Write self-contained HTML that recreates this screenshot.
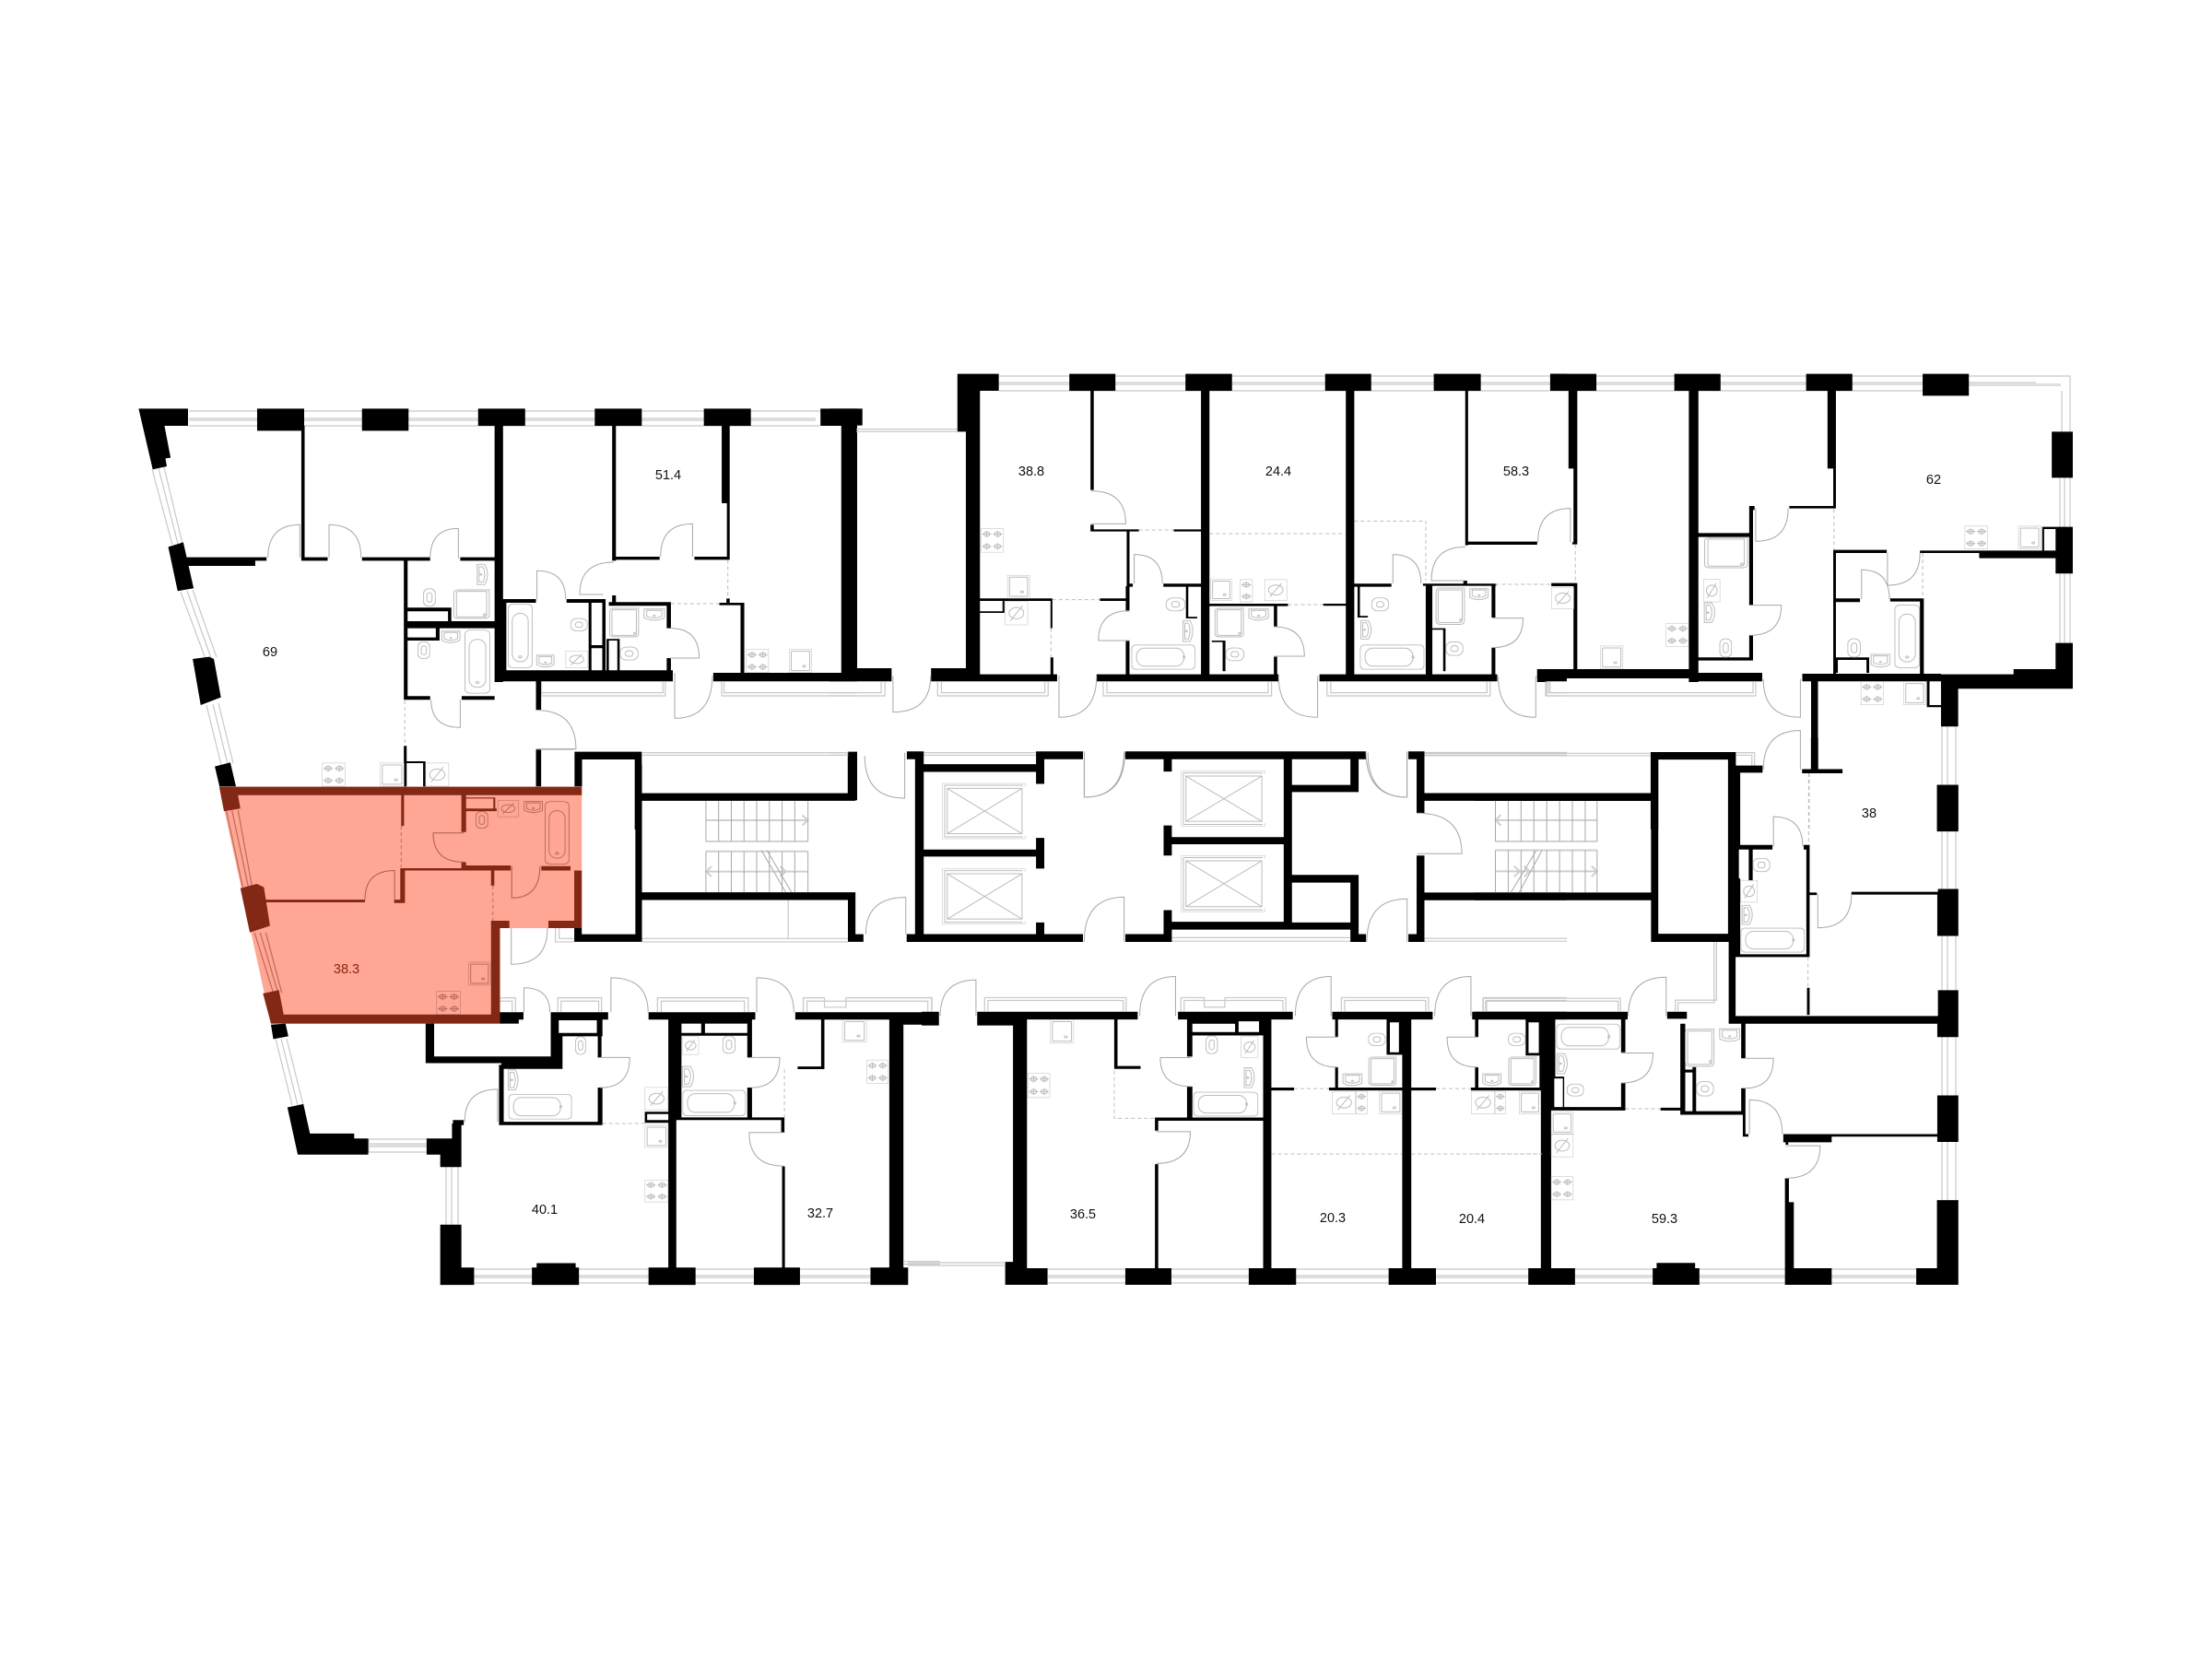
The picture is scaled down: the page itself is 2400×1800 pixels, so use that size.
<!DOCTYPE html>
<html><head><meta charset="utf-8"><style>
html,body{margin:0;padding:0;background:#fff}
svg{display:block}
symbol *{vector-effect:non-scaling-stroke}
.f{stroke:#bbb;fill:none;stroke-width:1}
.r use{stroke:#b86f5e}
use{stroke:#bcbcbc;fill:none;stroke-width:1}
.d{fill:none;stroke:#a8a8a8;stroke-width:1;vector-effect:non-scaling-stroke}
.l{fill:none;stroke:#c8c8c8;stroke-width:1.2;vector-effect:non-scaling-stroke}
.s{fill:none;stroke:#a8a8a8;stroke-width:1;vector-effect:non-scaling-stroke}
.t{fill:none;stroke:#cfcfcf;stroke-width:2;vector-effect:non-scaling-stroke}
.h{fill:none;stroke:#bdbdbd;stroke-width:1;stroke-dasharray:4 3;vector-effect:non-scaling-stroke}
.b{fill:#dedede}
text{font-family:"Liberation Sans",sans-serif;font-size:14.5px;text-anchor:middle;fill:#111}
</style></head><body>
<svg width="2400" height="1800" viewBox="0 0 2400 1800" xmlns="http://www.w3.org/2000/svg">
<defs>
<symbol id="st" viewBox="0 0 50 76" preserveAspectRatio="none"><rect x="0" y="0" width="50" height="76"/><circle cx="13" cy="18" r="7"/><circle cx="37" cy="18" r="7"/><circle cx="13" cy="57" r="7"/><circle cx="37" cy="57" r="7"/><path d="M3 18H23M13 8V28M27 18H47M37 8V28M3 57H23M13 47V67M27 57H47M37 47V67"/></symbol>
<symbol id="s2" viewBox="0 0 26 76" preserveAspectRatio="none"><rect x="0" y="0" width="26" height="76"/><circle cx="13" cy="18" r="7"/><circle cx="13" cy="57" r="7"/><path d="M3 18H23M13 8V28M3 57H23M13 47V67"/></symbol>
<symbol id="sk" viewBox="0 0 50 76" preserveAspectRatio="none"><rect x="0" y="0" width="50" height="76"/><rect x="5" y="7" width="40" height="62" rx="2"/><circle cx="33" cy="55" r="3"/></symbol>
<symbol id="vt" viewBox="0 0 50 76" preserveAspectRatio="none"><rect x="0" y="0" width="50" height="76"/><ellipse cx="25" cy="38" rx="16" ry="18"/><path d="M12 62L38 14"/></symbol>
<symbol id="bv" viewBox="0 0 50 200" preserveAspectRatio="none"><rect x="1" y="1" width="48" height="198" rx="12" ry="12"/><rect x="9" y="30" width="32" height="150" rx="15" ry="24"/><circle cx="25" cy="165" r="3"/></symbol>
<symbol id="bh" viewBox="0 0 200 70" preserveAspectRatio="none"><rect x="1" y="1" width="198" height="68" rx="12" ry="12"/><rect x="16" y="10" width="148" height="50" rx="24" ry="22"/><circle cx="165" cy="35" r="3"/></symbol>
<symbol id="wv" viewBox="0 0 30 60" preserveAspectRatio="none"><rect x="1" y="1" width="28" height="58" rx="13" ry="16"/><rect x="9" y="15" width="12" height="30" rx="6"/></symbol>
<symbol id="wh" viewBox="0 0 50 40" preserveAspectRatio="none"><rect x="1" y="1" width="48" height="38" rx="18" ry="16"/><rect x="15" y="12" width="20" height="16" rx="7"/></symbol>
<symbol id="ws" viewBox="0 0 50 50" preserveAspectRatio="none"><path d="M2 5H48V38Q25 55 2 38Z"/><path d="M8 10H42V32Q25 44 8 32Z"/><circle cx="25" cy="30" r="2"/></symbol>
<symbol id="wl" viewBox="0 0 30 70" preserveAspectRatio="none"><path d="M2 2H18Q30 35 18 68H2Z"/><path d="M6 10H14Q22 35 14 60H6Z"/><circle cx="10" cy="35" r="2"/></symbol>
<symbol id="sh" viewBox="0 0 70 100" preserveAspectRatio="none"><path d="M2 12Q2 2 12 2H68V88Q68 98 58 98H12Q2 98 2 88Z"/><path d="M7 12Q7 7 12 7H63V86Q63 93 56 93H12Q7 93 7 88Z"/><circle cx="60" cy="86" r="3"/></symbol>
<symbol id="el" viewBox="0 0 200 160" preserveAspectRatio="none"><path d="M200 10V0H0V160H200V150"/><path d="M194 6H6V154H194"/><rect x="12" y="15" width="180" height="130"/><path d="M12 15L192 145M192 15L12 145"/></symbol>
</defs>

<!-- windows, real coordinates -->
<g>
<rect class="b" x="205" y="453" width="680" height="4"/><path class="l" d="M205 446H890M205 462H890"/>
<rect class="b" x="1084" y="414" width="1125" height="4"/><path class="l" d="M1084 408H2246V468M1084 424H2136M2237 424V468"/><rect class="b" x="2136" y="416" width="100" height="3"/>
<path class="l" d="M2235 518V572M2246 518V572M2240 518V572M2235 622V698M2246 622V698M2240 622V698"/>
<path class="l" d="M2107 788V1302M2113 788V1302M2122 788V1302"/>
<path class="l" d="M178 507L198 590M172 508L193 590M165 509L187 591M209 640L235 713M203 641L229 714M196 642L223 715M237 763L253 828M231 764L247 829M224 765L240 830"/>
<rect class="b" x="514" y="1383" width="440" height="4"/><path class="l" d="M514 1377H954M514 1392H954"/>
<rect class="b" x="1137" y="1383" width="965" height="4"/><path class="l" d="M1137 1377H2102M1137 1392H2102"/>
<path class="l" d="M985 1370H1090M985 1373H1090"/>
<path class="l" d="M299 1127L317 1199M305 1127L323 1199M311 1127L329 1199"/>
<path class="l" d="M400 1236V1250M400 1236H463M400 1250H463"/><rect class="b" x="400" y="1240" width="63" height="5"/>
<path class="l" d="M484 1266V1330M490 1266V1330M497 1266V1330"/>
</g>

<!-- red apartment -->
<g class="r" transform="translate(220,830) scale(.5102,.3635)">
<path fill="#ffa694" d="M35 65H806V487H632V772H145Z"/>
<path class="l" style="stroke:#c06a58" d="M50 135L85 365M62 135L97 365M75 135L105 365M110 500L150 680M122 500L160 680M134 500L168 680"/>
<path fill="#842816" d="M35 65H806V90H782V315H806V487H735V465H790V315H720V302H782V90H75L80 130L45 138ZM80 368L115 355L130 365L143 480L100 500ZM128 682L162 672L172 745H613V465H652V487H632V772H145ZM130 402H345V410H130ZM407 402H420V308H550V290H560V300H655V315H430V412H407ZM422 90H428V182H422ZM550 90H560V200H550ZM613 315H620V360H613ZM550 130H625V138H550ZM550 97H622V130H618V100H554V130H550Z"/>
<use href="#vt" x="627" y="105" width="45" height="50"/><use href="#ws" x="682" y="105" width="42" height="40"/><use href="#bv" x="727" y="108" width="53" height="189"/><use href="#wv" x="580" y="138" width="27" height="52"/><use href="#sk" x="565" y="588" width="47" height="70"/><use href="#st" x="497" y="675" width="51" height="70"/>
<path class="h" style="stroke:#b86f5e" d="M422 182V305M617 360V465"/>
<path class="d" style="stroke:#a9604f" d="M408 402V315Q345 315 345 402M555 203H490Q490 290 555 290M657 302V397Q717 397 717 302"/>
</g>
<text x="376" y="1056" style="fill:#842816">38.3</text>

<!-- Z1 -->
<g transform="translate(130,400) scale(.5102,.3333)">
<path d="M40 130H145V186H95L108 290L97 292L100 318L70 328ZM103 580L135 565L157 715L123 724ZM155 945L190 938L200 945L215 1070L172 1095ZM202 1295L235 1282L247 1360H212ZM292 130H392V202H292ZM515 130H614V202H515ZM762 130H862V186H762ZM1010 130H1110V186H1010ZM1242 130H1342V186H1242ZM1490 130H1568V186H1490ZM1536 186H1568V1018H1536ZM386 186H393V622H386ZM130 614H312V625H288V642H130ZM386 614H442V625H386ZM515 614H660V625H515ZM724 614H800V625H724ZM604 625H612V1078H604ZM797 186H815V750H822V1000H815V1020H797ZM1047 186H1055V625H1047ZM1055 612H1148V622H1055ZM1222 612H1297V622H1222ZM1280 186H1297V438H1280ZM1291 438H1297V622H1291ZM604 822H810V845H604ZM604 778H705V822H698V790H604ZM612 875H672V845H680V885H612ZM604 1066H660V1078H604ZM727 1066H797V1078H727ZM815 750H885V762H815ZM950 750H1033V762H950ZM997 762H1003V982H997ZM1026 762H1033V982H1026ZM1003 900H1026V910H1003ZM1035 880H1063V982H1058V885H1040V982H1035ZM1047 738H1055V762H1047ZM1040 760H1172V772H1040ZM1163 772H1172V845H1163ZM1163 942H1172V985H1163ZM797 982H1176V1018H797ZM1262 990H1568V1018H1262ZM885 1018H896V1110H885ZM885 1240H896V1360H885ZM967 1247H1110V1272H983V1360H967ZM1095 1272H1110V1500H1095ZM1110 1382H1568V1405H1110ZM1548 1247H1568V1400H1548ZM1275 762H1290V748H1297V762H1328V990H1320V770H1275ZM604 1228H610V1360H604ZM604 1278H650V1360H645V1284H604Z"/>
<path class="l" d="M897 1020V1065H1160V1020M897 1055H1155V1020M1280 1020V1065H1568M1285 1020V1055H1568M895 1240H967M1110 1250H1548M1110 1258H1548"/>
<path class="h" d="M1293 622V750M1172 765H1275M606 1080V1228"/>
<path class="d" d="M383 615V508Q315 508 315 615M445 615V508Q513 508 513 615M720 618V520Q660 520 660 618M1218 612V505Q1150 505 1150 612M1028 735H978Q978 630 1050 630M887 750V658Q948 658 948 750M1170 942H1232Q1232 845 1170 845M724 1078V1168Q662 1168 662 1078M885 1238H970Q970 1112 885 1112M1180 990V1138Q1260 1138 1260 1000"/>
<use href="#wv" x="645" y="715" width="27" height="60"/><use href="#wl" x="758" y="635" width="30" height="70"/><use href="#sh" x="708" y="718" width="80" height="97"/><use href="#ws" x="683" y="850" width="42" height="45"/><use href="#wv" x="633" y="888" width="27" height="57"/><use href="#bv" x="733" y="850" width="55" height="208"/><use href="#bv" x="825" y="765" width="53" height="210"/><use href="#wh" x="958" y="812" width="37" height="43"/><use href="#ws" x="885" y="928" width="40" height="47"/><use href="#vt" x="948" y="918" width="47" height="57"/><use href="#sh" x="1040" y="778" width="65" height="97"/><use href="#ws" x="1113" y="778" width="47" height="44"/><use href="#wh" x="1063" y="905" width="40" height="45"/><use href="#st" x="1332" y="913" width="48" height="77"/><use href="#sk" x="1423" y="913" width="49" height="77"/><use href="#st" x="430" y="1283" width="50" height="77"/><use href="#sk" x="553" y="1283" width="52" height="77"/><use href="#vt" x="650" y="1283" width="50" height="77"/>
</g>

<!-- Z2 -->
<g transform="translate(900,400) scale(.5102,.3333)">
<path d="M272 17H360V72H320V995H484V1018H216V975H290V205H272ZM510 17H608V72H510ZM757 17H856V72H757ZM1054 17H1152V72H1054ZM1285 17H1385V72H1285ZM1533 17H1568V72H1533ZM0 130H70V185H57V975H132V1018H0V990H25V185H0ZM555 72H562V395H555ZM555 508H562V530H555ZM555 523H658V530H555ZM732 523H790V530H732ZM790 72H808V995H790ZM1098 72H1116V1000H1098ZM632 530H638V700H645V710H638V790H630V708H632ZM710 700H790V710H710ZM758 710H763V808H782V813H758ZM630 885H638V995H630ZM568 995H955V1018H568ZM320 748H474V845H470V756H320ZM470 940H476V1000H470ZM575 748H630V756H575ZM320 790H368V756H372V795H320ZM808 765H975V773H808ZM945 773H952V840H945ZM945 938H952V995H945ZM1050 765H1100V772H1050ZM813 885H842V985H836V890H813ZM1116 700H1195V710H1116ZM1123 710H1128V805H1145V810H1123ZM1262 700H1418V707H1416V810H1408V707H1282V995H1268V707H1262ZM1042 995H1420V1018H1042ZM1282 845H1310V985H1305V850H1282ZM1352 72H1358V575H1352ZM1352 563H1505V573H1352ZM1348 690H1356V700H1348ZM1408 908H1416V995H1408ZM1505 978H1568V1018H1525V1008H1505Z"/>
<path class="l" d="M57 197H272M57 205H272M118 1018V1065H0M110 1018V1055H0M230 1018V1065H465V1018M238 1018V1055H458V1018M582 1018V1065H940V1018M590 1018V1055H933V1018M1058 1018V1065H1405V1018M1066 1018V1055H1398V1018M1525 1018V1065H1568M1532 1018V1055H1568M0 1250H40M0 1258H40M200 1250H440M200 1258H440M1262 1252H1568M1262 1260H1568"/>
<path class="h" d="M658 525H732M474 752H575M471 845V940M808 537H1098M975 768H1050M1116 496H1268V690M1416 702H1535"/>
<path class="d" d="M135 1000V1118Q215 1118 215 1000M556 505H630Q630 398 556 398M648 700V605Q708 605 708 700M638 885H572Q572 788 638 788M488 1000V1135Q568 1135 568 1000M945 936H1010Q1010 840 945 840M1038 1000V1135Q955 1135 955 1000M1198 700V605Q1258 605 1258 700M1352 690H1280Q1280 580 1352 580M1410 812H1475Q1475 908 1410 908M1502 1000V1135Q1422 1135 1422 1000M160 1250V1398Q75 1398 75 1260M542 1250V1395Q628 1395 628 1250M1228 1250V1395Q1145 1395 1145 1250"/>
<use href="#st" x="322" y="520" width="48" height="78"/><use href="#sk" x="378" y="672" width="48" height="76"/><use href="#vt" x="373" y="757" width="49" height="78"/><use href="#wh" x="715" y="745" width="42" height="45"/><use href="#wl" x="750" y="818" width="28" height="72"/><use href="#bh" x="642" y="898" width="136" height="82"/><use href="#sk" x="810" y="685" width="46" height="70"/><use href="#s2" x="873" y="686" width="27" height="74"/><use href="#vt" x="925" y="686" width="48" height="69"/><use href="#sh" x="818" y="778" width="64" height="97"/><use href="#ws" x="890" y="778" width="45" height="44"/><use href="#wh" x="842" y="908" width="40" height="44"/><use href="#wh" x="1152" y="745" width="38" height="45"/><use href="#wl" x="1128" y="818" width="30" height="64"/><use href="#bh" x="1128" y="898" width="137" height="82"/><use href="#sh" x="1288" y="712" width="64" height="123"/><use href="#ws" x="1360" y="712" width="42" height="43"/><use href="#wh" x="1310" y="888" width="38" height="47"/>
</g>

<!-- Z3 -->
<g transform="translate(1650,400) scale(.4145,.3333)">
<path d="M77 17H198V72H77ZM402 17H523V72H402ZM747 17H868V72H747ZM1052 17H1173V88H1052ZM1390 205H1445V355H1390ZM1400 515H1445V667H1400V617H1200V600H1045V592H1400V522H1370V592H1365V515ZM1400 893H1445V1042H1145V1165H1100V1018H778V1310H842V1317H737V1305H760V1018H737V993H1100V995H1290V978H1400ZM1090 1355H1145V1500H1090ZM125 72H148V325H125ZM138 325H148V572H135V565H138ZM80 698H148V980H138V708H80ZM440 72H465V990H440ZM803 72H825V325H803ZM818 325H825V455H703V447H818ZM598 447H612V460H608V770H598ZM598 868H608V950H598ZM465 535H608V548H465ZM465 940H608V950H465ZM43 978H440V990H632V1018H465V1020H440V1008H68V1020H43ZM818 590H958V600H825V995H818ZM818 748H888V760H818ZM967 748H1055V995H1045V758H967ZM822 940H912V990H905V948H830V990H822ZM1063 1018H1070V1095H1100V1102H1063ZM340 1248H563V1293H632V1315H563V1500H545V1272H360V1500H340ZM0 1382H340V1407H0Z"/>
<path class="l" d="M65 1018V1065H615V1018M72 1018V1055H608V1018M0 1252H340M0 1260H340M563 1250H612V1293M563 1258H605V1293"/>
<path class="h" d="M143 572V698M0 702H80M820 457V590M1052 600V748M755 1317V1500"/>
<path class="d" d="M130 565V455Q45 455 45 565M615 455V562Q700 562 700 455M600 770H682Q682 868 600 868M892 750V655Q965 655 965 750M960 600V705Q1045 705 1045 600M732 1010V1135Q635 1135 635 1010M732 1305V1178Q635 1178 635 1305"/>
<use href="#st" x="380" y="828" width="60" height="77"/><use href="#sk" x="208" y="902" width="60" height="76"/><use href="#sh" x="478" y="548" width="119" height="102"/><use href="#vt" x="478" y="685" width="44" height="75"/><use href="#wl" x="478" y="760" width="37" height="68"/><use href="#wv" x="520" y="878" width="33" height="62"/><use href="#st" x="1162" y="512" width="60" height="76"/><use href="#sk" x="1302" y="512" width="60" height="76"/><use href="#wv" x="855" y="878" width="35" height="62"/><use href="#ws" x="915" y="925" width="53" height="50"/><use href="#bv" x="978" y="768" width="67" height="207"/><use href="#st" x="890" y="1018" width="60" height="77"/><use href="#sk" x="1002" y="1018" width="58" height="77"/><use href="#vt" x="80" y="712" width="60" height="70"/>
</g>

<!-- Z4 -->
<g transform="translate(220,830) scale(.5102,.3635)">
<path d="M790 487H806V505H920V0H934V85H1372V0H1388V107H934V380H1388V505H1405V528H1372V403H934V528H790ZM1497 505H1515V0H1530V528H1497ZM145 775L176 772L182 810L150 818ZM180 1022L214 1012L228 1100H322V1115H352V1163H202ZM476 1115H530V1070H532V1060H555V1075H550V1200H505V1163H476ZM505 1372H550V1500H577V1552H505ZM700 1500H710V1487H793V1500H800V1552H700ZM948 1500H1048V1552H948ZM1172 1500H1270V1552H1172ZM1420 1500H1500V1552H1420ZM632 738H682V760H672V772H632ZM474 772H492V870H740V738H862V760H850V810H848V873H840V810H765V907H635V890H474ZM840 963H850V1075H630V895H640V1065H840ZM948 738H1175V760H1168V873H1158V772H1018V1060H1007V1500H990V760H948ZM1018 760H1158V772H1018ZM1158 963H1168V1052H1237V1097H1230V1060H1018V1052H1158ZM1018 800H1158V808H1018ZM1060 772H1068V800H1060ZM1232 1198H1238V1500H1232ZM1260 738H1565V775H1490V1500H1460V760H1260ZM1315 760H1322V908H1265V900H1315ZM940 1035H990V1042H945V1060H990V1068H940Z"/>
<path fill="#fff" d="M757 762H838V800H757Z"/>
<path class="l" d="M750 487V528H790M758 487V518H790M934 518H1372M934 528H1372M1245 403V518M632 695H665V738M632 705H658V738M755 738V695H848V738M762 738V705H842V738M967 738V695H1160V738M975 738V705H1152V738M1277 738V695H1322V723H1368V695H1550V738M1285 738V705H1542V738M1490 1482H1568M1490 1490H1568"/>
<path class="t" d="M1070 165H1287M1070 228H1287M1070 258H1287M1070 318H1287M1275 150L1287 165L1275 180M1082 303L1070 318L1082 333M1228 303L1240 318L1228 333"/>
<path class="s" d="M1070 108V228M1097 108V228M1124 108V228M1151 108V228M1178 108V228M1205 108V228M1232 108V228M1259 108V228M1287 108V228M1070 258V380M1097 258V380M1124 258V380M1151 258V380M1178 258V380M1205 258V380M1232 258V380M1259 258V380M1287 258V380M1188 255L1240 380M1200 255L1252 380"/>
<path class="h" d="M850 1070H940M1237 908V1052"/>
<path class="d" d="M656 487V595Q733 595 733 487M1495 505V395Q1410 395 1410 505M683 738V665Q738 665 738 738M868 738V635Q947 635 947 738M1178 738V635Q1257 635 1257 738M845 873H908Q908 963 845 963M1165 873H1227Q1227 963 1165 963M627 1065V968Q557 968 557 1065M1235 1097H1162Q1162 1197 1235 1197"/>
<use href="#wv" x="792" y="810" width="23" height="55"/><use href="#wl" x="648" y="908" width="28" height="64"/><use href="#bh" x="650" y="982" width="135" height="76"/><use href="#vt" x="1020" y="810" width="35" height="55"/><use href="#wv" x="1105" y="808" width="28" height="54"/><use href="#wl" x="1018" y="898" width="32" height="64"/><use href="#bh" x="1020" y="970" width="135" height="78"/><use href="#sk" x="1360" y="760" width="52" height="68"/><use href="#st" x="1412" y="880" width="46" height="72"/><use href="#vt" x="940" y="962" width="50" height="68"/><use href="#sk" x="940" y="1075" width="50" height="67"/><use href="#st" x="940" y="1238" width="50" height="67"/>
</g>

<!-- Z5 -->
<g transform="translate(1000,800) scale(.4464,.3827)">
<path d="M-36 40H5V580H-36V558H-16V62H-36ZM278 40H392V62H298V132H278V98H0V76H278ZM278 285H298V372H278V338H0V318H278ZM278 525H298V558H392V580H0V558H278ZM495 40H1080V62H1062V155H900V525H1042V412H900V390H1062V558H1080V580H1042V545H608V580H495V558H588V490H608V523H880V303H608V335H588V250H608V283H880V62H608V97H588V62H495ZM900 62H1042V135H900ZM1183 40H1222V158H1568V180H1222V215H1203V62H1183ZM1203 335H1222V440H1568V462H1222V580H1183V558H1203ZM0 778H42V817H0ZM135 778H525V800H476V932H532V940H468V800H256V1505H306V1552H203V1487H222V817H135ZM567 1078H830V1087H575V1115H567ZM567 1210H575V1505H567ZM623 778H902V800H850V1505H910V1552H795V1505H830V1087H830V845H658V905H645V800H623ZM645 990H658V1078H645ZM850 993H905V1001H850ZM990 993H1168V1001H990ZM1005 800H1012V850H1005ZM1005 935H1012V993H1005ZM998 778H1242V800H1190V1505H1250V1552H1135V1505H1168V800H998ZM1130 800H1168V900H1130ZM1190 993H1250V1001H1190ZM1335 993H1510V1001H1335ZM1338 778H1568V800H1338ZM1345 800H1353V850H1345ZM1345 935H1353V993H1345ZM1468 800H1505V902H1468ZM1505 800H1530V1505H1568V1552H1475V1505H1505ZM495 1505H607V1552H495Z"/>
<path fill="#fff" d="M658 812H762V836H658ZM900 62H1042V135H900ZM770 805H820V836H770ZM1138 808H1160V893H1138ZM1475 808H1500V895H1475Z"/>
<path d="M658 836H820V845H658ZM762 800H770V837H762Z"/>
<path class="l" d="M1222 43H1568M1222 50H1568M1222 570H1568M1222 578H1568M608 568H1042M608 578H1042M0 738H25V778M153 778V738H497V778M161 778V746H490V778M630 778V738H687V765H737V738H885V778M638 778V746H878V778M1020 778V738H1232V778M1028 778V746H1225V778M1365 778V738H1568M1373 778V746H1568"/>
<use href="#el" x="50" y="130" width="202" height="158"/><use href="#el" x="50" y="372" width="202" height="158"/><use href="#el" x="630" y="95" width="205" height="158"/><use href="#el" x="630" y="335" width="205" height="160"/>
<path class="h" d="M468 945V1080H565M905 996H990M1250 996H1335M850 1181H1168M1190 1181H1505"/>
<path class="d" d="M395 40V170Q492 170 492 40M492 580V453Q395 453 395 580M1180 40V170Q1080 170 1080 40M1180 580V458Q1082 458 1082 580M1205 330H1313Q1313 215 1205 215M132 790V688Q45 688 45 790M617 790V678Q530 678 530 790M655 908H580Q580 990 655 990M570 1118H653Q653 1208 570 1208M995 790V678Q908 678 908 790M1010 850H935Q935 935 1010 935M1335 790V678Q1247 678 1247 790M1350 850H1277Q1277 935 1350 935"/>
<use href="#sk" x="312" y="800" width="58" height="68"/><use href="#st" x="258" y="952" width="54" height="70"/><use href="#wv" x="690" y="845" width="30" height="53"/><use href="#vt" x="776" y="848" width="42" height="60"/><use href="#wl" x="782" y="935" width="33" height="60"/><use href="#bh" x="660" y="1005" width="158" height="70"/><use href="#wh" x="1085" y="838" width="43" height="37"/><use href="#sh" x="1085" y="905" width="70" height="83"/><use href="#ws" x="1022" y="950" width="50" height="40"/><use href="#vt" x="998" y="1003" width="57" height="65"/><use href="#s2" x="1055" y="1003" width="28" height="65"/><use href="#sk" x="1112" y="1003" width="56" height="65"/><use href="#wh" x="1425" y="838" width="43" height="37"/><use href="#sh" x="1425" y="905" width="70" height="83"/><use href="#ws" x="1362" y="950" width="48" height="40"/><use href="#vt" x="1336" y="1003" width="57" height="65"/><use href="#s2" x="1393" y="1003" width="27" height="65"/><use href="#sk" x="1452" y="1003" width="53" height="65"/>
</g>

<!-- Z6 -->
<g transform="translate(1600,800) scale(.357,.3827)">
<path d="M536 42H793V80H875V100H807V305H905V318H845V405H833V318H803V400H807V615H1008V318H1000V305H1018V440H1040V447H1018V623H793V790H1408V717H1470V850H1406V812H823V910H810V812H772V580H536V440H0V462H0V440H536V180H0V158H536ZM558 63V557H770V63ZM0 158H536V180H0ZM0 440H536V462H0ZM1022 0H1044V90H1118V102H995V90H1022ZM1145 438H1408V430H1470V563H1406V446H1145ZM1405 135H1470V267H1405ZM1406 1015H1470V1147H1406V1132H1085V1148H953V1155H945V1148H938V1125H1406ZM943 1250H955V1318H970V1505H1085V1552H943ZM1405 1312H1470V1552H1342V1505H1405ZM163 1505H205V1000H197V800H0V778H465V800H458V893H445V800H245V962H272V1048H445V980H458V1058H232V1505H305V1552H163ZM553 1490H670V1505H683V1552H541V1505H553ZM585 778H645V787H1010V710H1018V787H645V798H585ZM625 812H640V1060H810V995H823V1125H832V1132H815V1070H625ZM565 1050H625V1058H565ZM632 942H673V1060H662V950H640V1060H632ZM662 935H673V942H662Z"/>
<path fill="#fff" d="M242 967H268V1048H242Z"/>
<path class="l" d="M25 778V740H443V778M33 778V748H436V778M610 778V745H735V580M618 778V752H728V580"/>
<path class="t" d="M63 235H372M63 295H372M63 320H372M63 380H372M80 220L63 235L80 250M355 365L372 380L355 395M120 365L137 380L120 395M150 365L167 380L150 395"/>
<path class="s" d="M63 180V295M102 180V295M141 180V295M180 180V295M219 180V295M258 180V295M297 180V295M336 180V295M372 180V295M63 320V440M102 320V440M141 320V440M180 320V440M219 320V440M258 320V440M297 320V440M336 320V440M372 320V440M188 320L110 440M205 320L135 440"/>
<path class="h" d="M458 1053H565M1015 102V305M1013 623V710M0 1181H205"/>
<path class="d" d="M582 790V680Q467 680 467 790M445 895H542Q542 980 445 980M820 910H908Q908 995 820 995M835 1125V1028Q935 1028 935 1125M945 1158H1050Q1050 1250 945 1250M908 310V225Q997 225 997 310M1043 445V540Q1145 540 1145 445"/>
<use href="#bh" x="248" y="812" width="194" height="73"/><use href="#wl" x="247" y="895" width="43" height="60"/><use href="#wh" x="280" y="982" width="52" height="36"/><use href="#sk" x="232" y="1062" width="68" height="63"/><use href="#vt" x="232" y="1125" width="68" height="65"/><use href="#st" x="232" y="1245" width="68" height="67"/><use href="#sh" x="638" y="825" width="92" height="110"/><use href="#ws" x="742" y="822" width="66" height="43"/><use href="#wh" x="673" y="975" width="54" height="43"/><use href="#wh" x="845" y="342" width="53" height="40"/><use href="#vt" x="808" y="405" width="52" height="63"/><use href="#wl" x="810" y="475" width="42" height="57"/><use href="#bh" x="808" y="540" width="195" height="70"/>
</g>

<!-- labels -->
<text x="725" y="520">51.4</text>
<text x="293" y="712">69</text>
<text x="1119" y="516">38.8</text>
<text x="1387" y="516">24.4</text>
<text x="1645" y="516">58.3</text>
<text x="2098" y="525">62</text>
<text x="2028" y="887">38</text>
<text x="591" y="1317">40.1</text>
<text x="890" y="1321">32.7</text>
<text x="1175" y="1322">36.5</text>
<text x="1446" y="1326">20.3</text>
<text x="1597" y="1327">20.4</text>
<text x="1806" y="1327">59.3</text>
</svg>
</body></html>
